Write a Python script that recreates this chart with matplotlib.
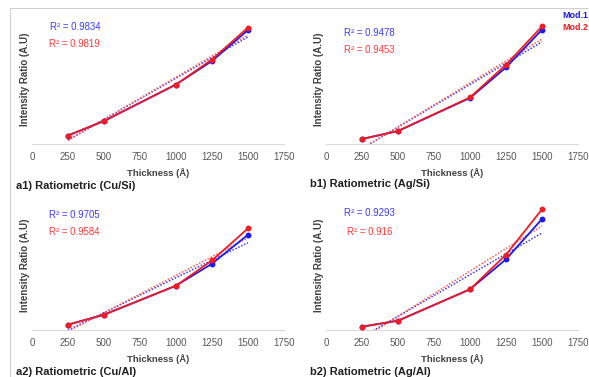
import matplotlib
matplotlib.use("Agg")
import matplotlib.pyplot as plt
import numpy as np
from matplotlib.lines import Line2D

plt.rcParams['font.family'] = ['Liberation Sans', 'DejaVu Sans']

# Thickness values (Å)
thickness = [250, 500, 1000, 1250, 1500]

# Intensity ratio (arbitrary units)
a1_mod1 = [8.5, 23, 59.5, 83, 114]
a1_mod2 = [8.5, 23, 59.5, 84.5, 116.5]
b1_mod1 = [5, 13, 46, 76.6, 114.3]
b1_mod2 = [5, 13, 46.6, 79.3, 117.6]
a2_mod1 = [5.3, 15.3, 44.3, 66.3, 95.3]
a2_mod2 = [5.3, 15.3, 44.3, 69.6, 101.6]
b2_mod1 = [3.3, 9.3, 40.7, 70.7, 111]
b2_mod2 = [3.3, 9.3, 40.7, 75.3, 120.7]

r2_labels = {
    'a1': ('R² = 0.9834', 'R² = 0.9819'),
    'b1': ('R² = 0.9478', 'R² = 0.9453'),
    'a2': ('R² = 0.9705', 'R² = 0.9584'),
    'b2': ('R² = 0.9293', 'R² = 0.916'),
}
titles = {
    'a1': 'a1) Ratiometric (Cu/Si)',
    'b1': 'b1) Ratiometric (Ag/Si)',
    'a2': 'a2) Ratiometric (Cu/Al)',
    'b2': 'b2) Ratiometric (Ag/Al)',
}
legend_labels = ['Mod.1', 'Mod.2']
xticks = [0, 250, 500, 750, 1000, 1250, 1500, 1750]

W, H = 589, 377
BLUE = '#1a1aee'
RED = '#f01c24'
fig = plt.figure(figsize=(W / 100, H / 100), dpi=100)

# outer frame (grey lines at top and left)
fig.add_artist(Line2D([10 / W, 1], [1 - 8 / H, 1 - 8 / H], color='#d0d0d0', lw=0.8))
fig.add_artist(Line2D([10 / W, 10 / W], [0, 1 - 8 / H], color='#d0d0d0', lw=0.8))


def panel(key, m1, m2, x0, base, r2pos, title_x, title_y):
    # x0: pixel x of value 0, base: pixel y of x-axis
    ax = fig.add_axes([x0 / W, (H - base) / H, 252 / W, 130 / H])
    ax.set_xlim(0, 1750)
    ax.set_ylim(0, 130)
    for s in ['top', 'right', 'left']:
        ax.spines[s].set_visible(False)
    ax.spines['bottom'].set_color('#d9d9d9')
    ax.spines['bottom'].set_linewidth(0.8)
    ax.set_yticks([])
    ax.set_xticks(xticks)
    ax.tick_params(axis='x', length=0, labelsize=7, colors='#595959', pad=6)
    ax.patch.set_alpha(0)

    xs = np.array(thickness, dtype=float)
    for ys, tcol in [(m1, '#3a3aff'), (m2, '#ff5a5a')]:
        k, b = np.polyfit(xs, ys, 1)
        xx = np.array([250, 1500])
        ax.plot(xx, k * xx + b, ls=(0, (1, 1.1)), lw=1.1, color=tcol, zorder=2)
    ax.plot(thickness, m1, color=BLUE, lw=1.3, marker='o', ms=3.2, zorder=3)
    ax.plot(thickness, m2, color=RED, lw=1.3, marker='o', ms=3.2, zorder=4)

    ax.set_xlabel('Thickness (Å)', fontsize=6.8, fontweight='bold', color='#404040', labelpad=4)
    ax.set_ylabel('Intensity Ratio (A.U)', fontsize=7, fontweight='bold', color='#404040')
    ax.yaxis.set_label_coords(-0.008, 0.5)

    t1, t2 = r2_labels[key]
    (rx1, ry1), (rx2, ry2) = r2pos
    fig.text(rx1 / W, 1 - ry1 / H, t1, color='#3a3aff', fontsize=6.9, va='center')
    fig.text(rx2 / W, 1 - ry2 / H, t2, color='#ff3a3a', fontsize=6.9, va='center')
    fig.text(title_x / W, 1 - title_y / H, titles[key], fontsize=8, fontweight='bold',
             color='#202020', va='center')
    return ax


panel('a1', a1_mod1, a1_mod2, 32, 144, [(50, 27), (49, 44)], 16, 186)
panel('b1', b1_mod1, b1_mod2, 326, 144, [(344, 33), (344, 50)], 310, 184)
panel('a2', a2_mod1, a2_mod2, 32, 330, [(49, 215), (49, 232)], 16, 372)
panel('b2', b2_mod1, b2_mod2, 326, 330, [(344, 213), (347, 232)], 310, 372)

# legend text at the right edge (kept fully inside the figure)
fig.text(562 / W, 1 - 16 / H, legend_labels[0], color=BLUE, fontsize=6.4, fontweight='bold', va='center')
fig.text(562 / W, 1 - 28 / H, legend_labels[1], color=RED, fontsize=6.4, fontweight='bold', va='center')

fig.savefig('out.png', dpi=100)
